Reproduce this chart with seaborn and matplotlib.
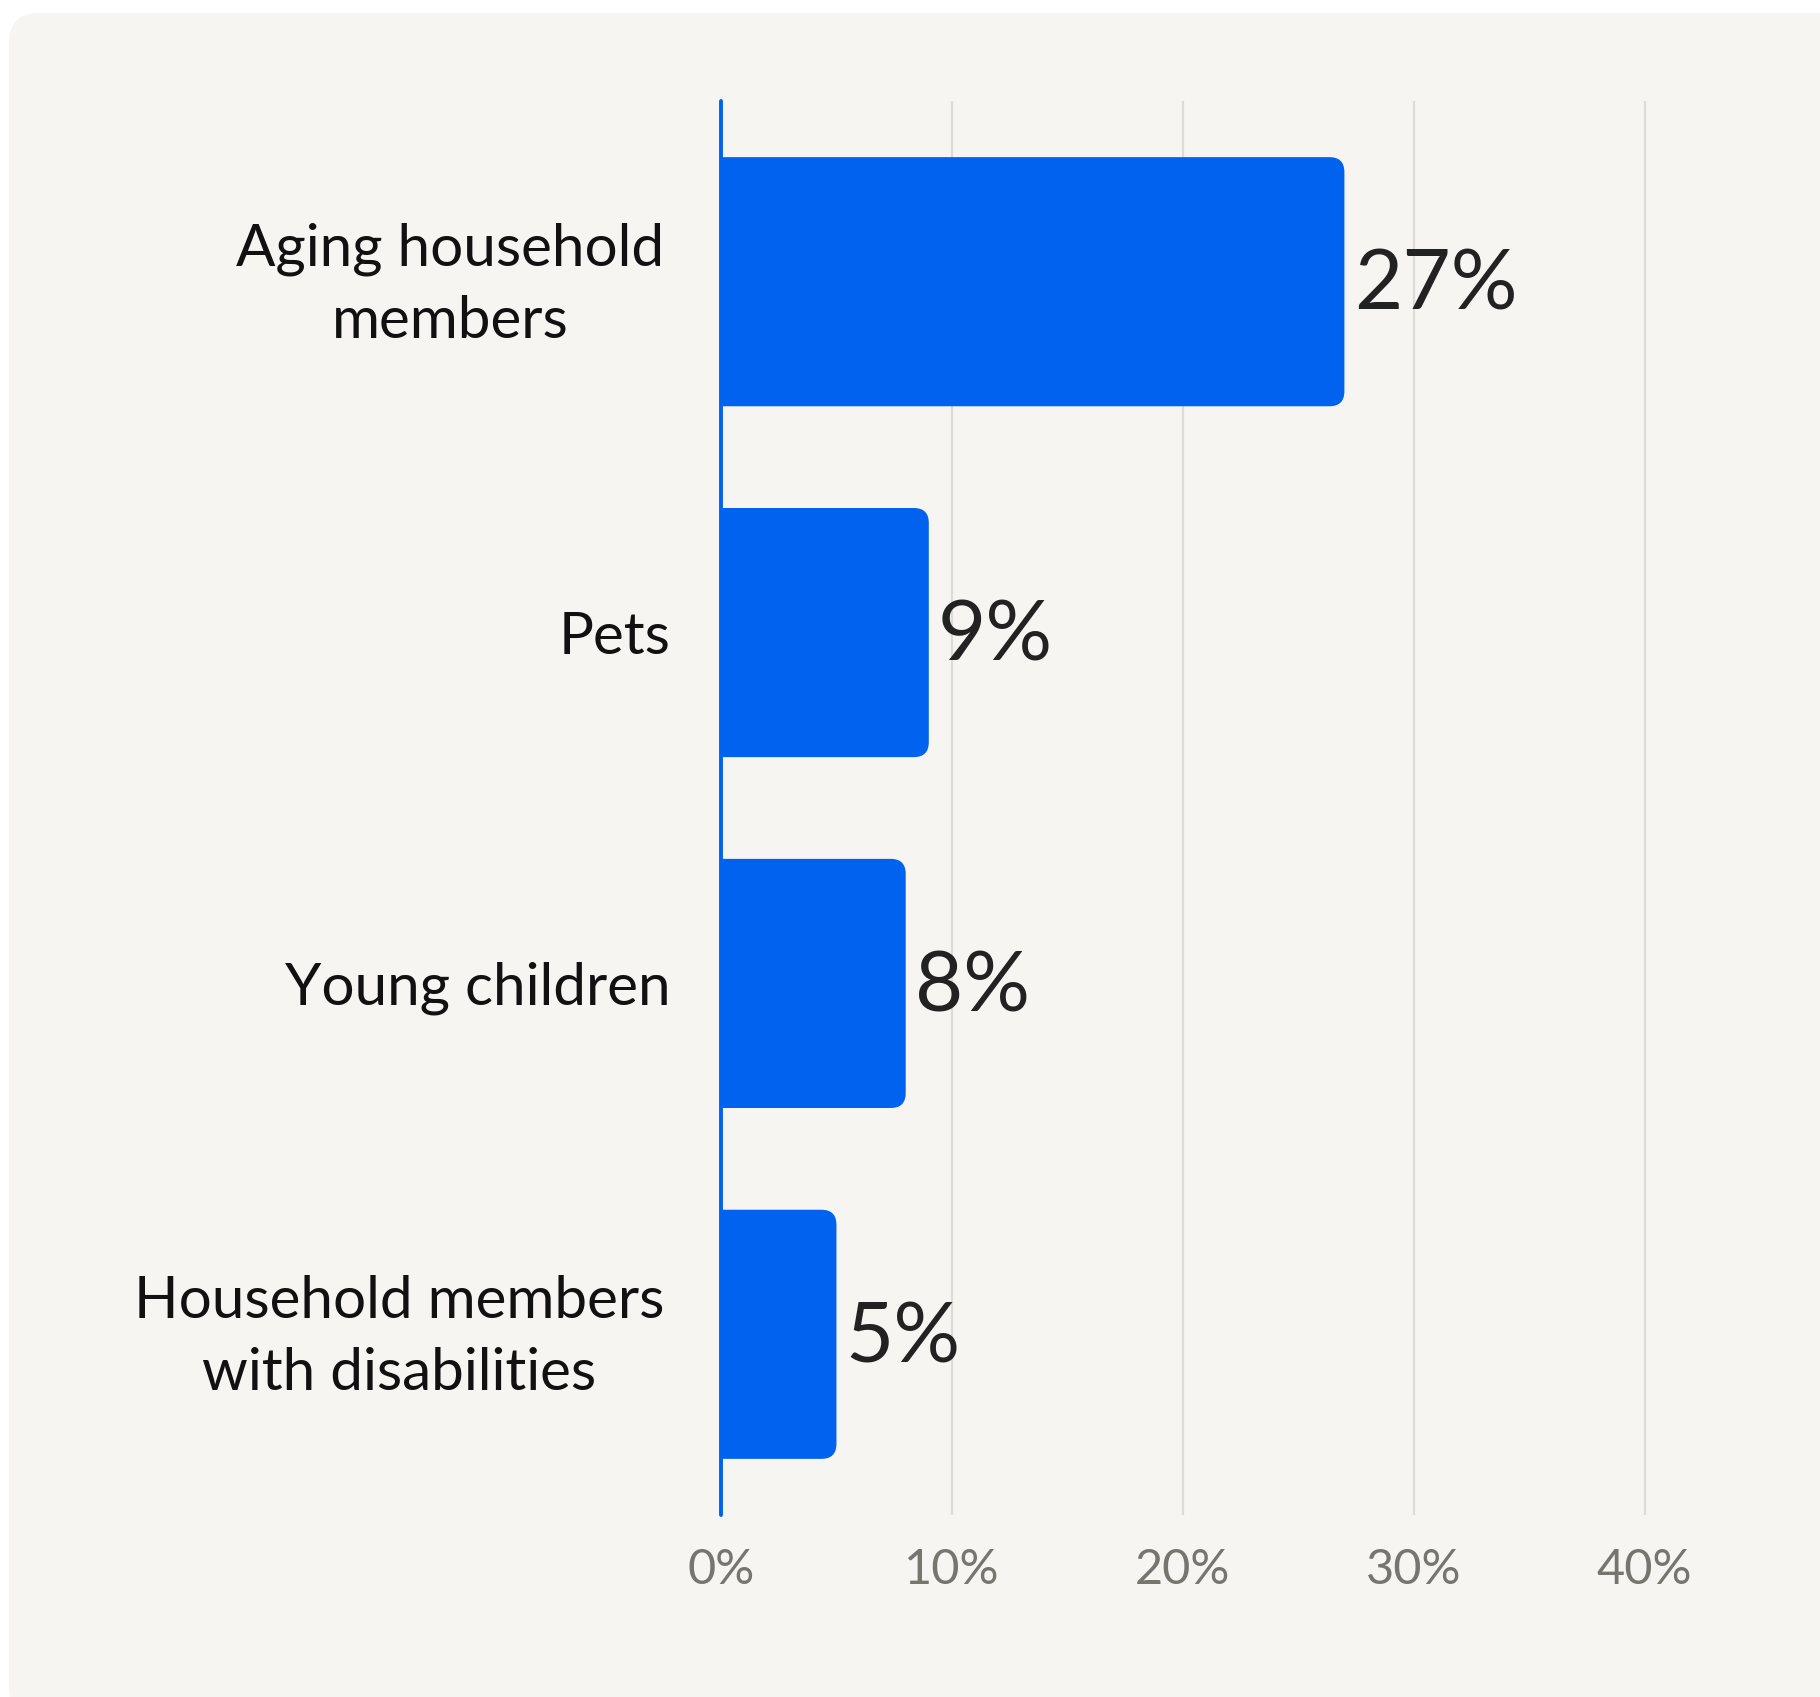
import matplotlib
matplotlib.use("Agg")
import matplotlib.pyplot as plt
from matplotlib.patches import FancyBboxPatch
from matplotlib.transforms import IdentityTransform, ScaledTranslation
import seaborn as sns
import pandas as pd

# Survey shares by household group
categories = [
    "Aging household\nmembers",
    "Pets",
    "Young children",
    "Household members\nwith disabilities",
]
shares = [27, 9, 8, 5]
tick_values = [0, 10, 20, 30, 40]
tick_labels = ["0%", "10%", "20%", "30%", "40%"]

BLUE = "#0062EF"
PANEL = "#F6F5F2"
GRID = "#DCDBD7"
TICK_TEXT = "#76766F"
LABEL_TEXT = "#111111"
VALUE_TEXT = "#222222"

sns.set_theme(style="white")
plt.rcParams["font.family"] = ["Lato", "DejaVu Sans"]

W, H = 1820, 1697
fig = plt.figure(figsize=(W / 100, H / 100), dpi=100)
fig.patch.set_facecolor("white")

# Rounded background card (pixel coordinates)
card = FancyBboxPatch(
    (9, -20), 1850, H - 13 + 20,
    boxstyle="round,pad=0,rounding_size=30",
    transform=IdentityTransform(), fc=PANEL, ec="none", zorder=-10,
)
fig.patches.append(card)

ax = fig.add_axes([721 / W, 1 - 1515 / H, 1039 / W, 1414 / H])
ax.set_facecolor("none")
ax.set_zorder(1)

df = pd.DataFrame({"group": categories, "share": shares})
sns.barplot(data=df, x="share", y="group", orient="h", color=BLUE,
            saturation=1, width=0.71, ax=ax)

ax.set_xlim(0, 45)
ax.set_ylim(3.515, -0.515)
ax.set_xlabel("")
ax.set_ylabel("")
for s in ax.spines.values():
    s.set_visible(False)

ax.set_xticks(tick_values)
ax.set_xticklabels(tick_labels)
ax.set_axisbelow(True)
ax.xaxis.grid(True, color=GRID, lw=1.6)
ax.yaxis.grid(False)
ax.tick_params(axis="x", length=0, pad=24, labelsize=35, labelcolor=TICK_TEXT)
ax.tick_params(axis="y", length=0, pad=36, labelsize=42, labelcolor=LABEL_TEXT)
for t in ax.get_yticklabels():
    t.set_multialignment("center")
    t.set_linespacing(1.44)
    if "\n" in t.get_text():
        t.set_transform(t.get_transform()
                        + ScaledTranslation(-7 / 100, 11 / 100, fig.dpi_scale_trans))

# Swap the plain bars for ones with rounded right-hand corners
fig.canvas.draw()
x_ppu = ax.transData.transform((1, 0))[0] - ax.transData.transform((0, 0))[0]
y_ppu = abs(ax.transData.transform((0, 1))[1] - ax.transData.transform((0, 0))[1])
r_x = 15 / x_ppu
aspect = x_ppu / y_ppu
for p in list(ax.patches):
    x0, y0, w, h = p.get_x(), p.get_y(), p.get_width(), p.get_height()
    p.remove()
    ax.add_patch(FancyBboxPatch(
        (x0 - 2 * r_x, y0), w + 2 * r_x, h,
        boxstyle=f"round,pad=0,rounding_size={r_x}",
        mutation_aspect=aspect, fc=BLUE, ec="none", zorder=2,
    ))

ax.axvline(0, color=BLUE, lw=2.8, clip_on=False, zorder=3)

value_shift = ScaledTranslation(0, -5 / 100, fig.dpi_scale_trans)
for i, v in enumerate(shares):
    ax.text(v + 0.4, i, f"{v}%", fontsize=60, color=VALUE_TEXT,
            va="center", ha="left", transform=ax.transData + value_shift)

fig.savefig("out.png", dpi=100, facecolor="white")
